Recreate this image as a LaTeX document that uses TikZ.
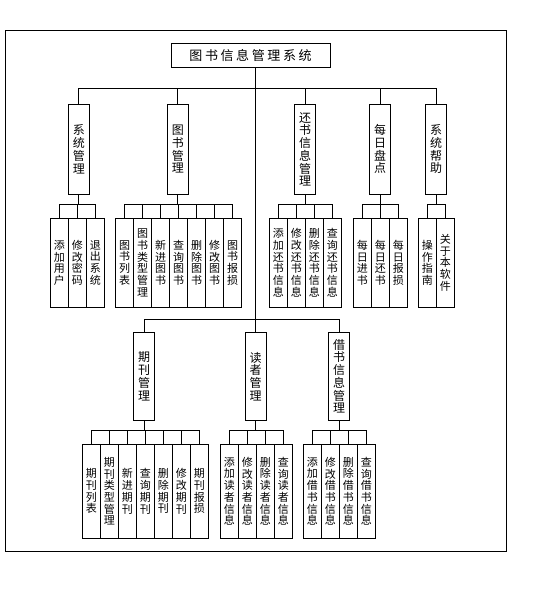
\documentclass[tikz,border=0pt]{standalone}
\usepackage{fontspec}
\newfontfamily\cjk{Noto Sans CJK SC}
\tikzset{
  conn/.style={line width=0.9pt},
  frame/.style={line width=0.9pt},
  titlebox/.style={draw, line width=0.9pt, minimum width=159pt, minimum height=24pt, inner sep=0pt, font=\cjk\fontsize{13}{13}\selectfont},
  midbox/.style={draw, line width=0.9pt, minimum width=21.3pt, inner sep=0pt, align=center, font=\cjk\fontsize{12}{12.7}\selectfont},
  leafbox/.style={draw, line width=0.9pt, minimum width=18pt, minimum height=89pt, inner sep=0pt, align=center, font=\cjk\fontsize{11}{11.7}\selectfont},
  lowleaf/.style={leafbox, minimum height=94pt},
}
% #1 group prefix, #2 parent node, #3 left x, #4 centre y, #5 count, #6 bus y, #7 style, #8 list
\newcommand\leafgroup[8]{%
  \foreach [count=\i] \t in {#8} {\node[#7] (#1\i) at ({#3+18*\i-9}, #4) {\t};}
  \draw[conn] (#2.south) -- (#2.south |- 0,#6);
  \draw[conn] (#11.north) -- (#11.north |- 0,#6) -| (#1#5.north);
  \foreach \j in {1,...,#5} {\draw[conn] (#1\j.north) -- (#1\j.north |- 0,#6);}
}
\begin{document}
\begin{tikzpicture}[x=1pt,y=-1pt]
\useasboundingbox (0,0) rectangle (539,591);
\draw[frame] (5.3,30) rectangle (506.7,551.3);

\node[titlebox] (sys) at (250.5,55.3) {图\hspace{2.6pt}书\hspace{2.6pt}信\hspace{2.6pt}息\hspace{2.6pt}管\hspace{2.6pt}理\hspace{2.6pt}系\hspace{2.6pt}统};

% level 2, upper
\node[midbox, minimum height=90pt] (m1) at (78.8,149.3) {系\\统\\管\\理};
\node[midbox, minimum height=90pt] (m2) at (177.8,149.3) {图\\书\\管\\理};
\node[midbox, minimum height=90pt] (m3) at (305,149.3) {还\\书\\信\\息\\管\\理};
\node[midbox, minimum height=90pt] (m4) at (380,149.3) {每\\日\\盘\\点};
\node[midbox, minimum height=90pt] (m5) at (436,149.3) {系\\统\\帮\\助};

% level 2, lower
\node[midbox, minimum height=88pt] (n1) at (144,376.3) {期\\刊\\管\\理};
\node[midbox, minimum height=88pt] (n2) at (255.7,376.3) {读\\者\\管\\理};
\node[midbox, minimum height=88pt] (n3) at (339,376.3) {借\\书\\信\\息\\管\\理};

% trunk and upper bus
\draw[conn] (n2.north) -- (n2.north |- sys.south);
\draw[conn] (m1.north) -- (m1.north |- 0,88.3) -| (m5.north);
\foreach \k in {2,3,4} {\draw[conn] (m\k.north) -- (m\k.north |- 0,88.3);}
% lower bus
\draw[conn] (n1.north) -- (n1.north |- 0,319) -| (n3.north);

% leaves, upper row
\leafgroup{a}{m1}{50.3}{262.8}{3}{204.3}{leafbox}{{添\\加\\用\\户},{修\\改\\密\\码},{退\\出\\系\\统}}
\leafgroup{b}{m2}{115.7}{262.8}{7}{204.3}{leafbox}{{图\\书\\列\\表},{图\\书\\类\\型\\管\\理},{新\\进\\图\\书},{查\\询\\图\\书},{删\\除\\图\\书},{修\\改\\图\\书},{图\\书\\报\\损}}
\leafgroup{c}{m3}{269.3}{262.8}{4}{204.3}{leafbox}{{添\\加\\还\\书\\信\\息},{修\\改\\还\\书\\信\\息},{删\\除\\还\\书\\信\\息},{查\\询\\还\\书\\信\\息}}
\leafgroup{d}{m4}{353.3}{262.8}{3}{204.3}{leafbox}{{每\\日\\进\\书},{每\\日\\还\\书},{每\\日\\报\\损}}
\leafgroup{e}{m5}{418.3}{262.8}{2}{204.3}{leafbox}{{操\\作\\指\\南},{关\\于\\本\\软\\件}}

% leaves, lower row
\leafgroup{f}{n1}{82.3}{491.3}{7}{430.7}{lowleaf}{{期\\刊\\列\\表},{期\\刊\\类\\型\\管\\理},{新\\进\\期\\刊},{查\\询\\期\\刊},{删\\除\\期\\刊},{修\\改\\期\\刊},{期\\刊\\报\\损}}
\leafgroup{g}{n2}{220.3}{491.3}{4}{430.7}{lowleaf}{{添\\加\\读\\者\\信\\息},{修\\改\\读\\者\\信\\息},{删\\除\\读\\者\\信\\息},{查\\询\\读\\者\\信\\息}}
\leafgroup{h}{n3}{303.3}{491.3}{4}{430.7}{lowleaf}{{添\\加\\借\\书\\信\\息},{修\\改\\借\\书\\信\\息},{删\\除\\借\\书\\信\\息},{查\\询\\借\\书\\信\\息}}
\end{tikzpicture}
\end{document}
